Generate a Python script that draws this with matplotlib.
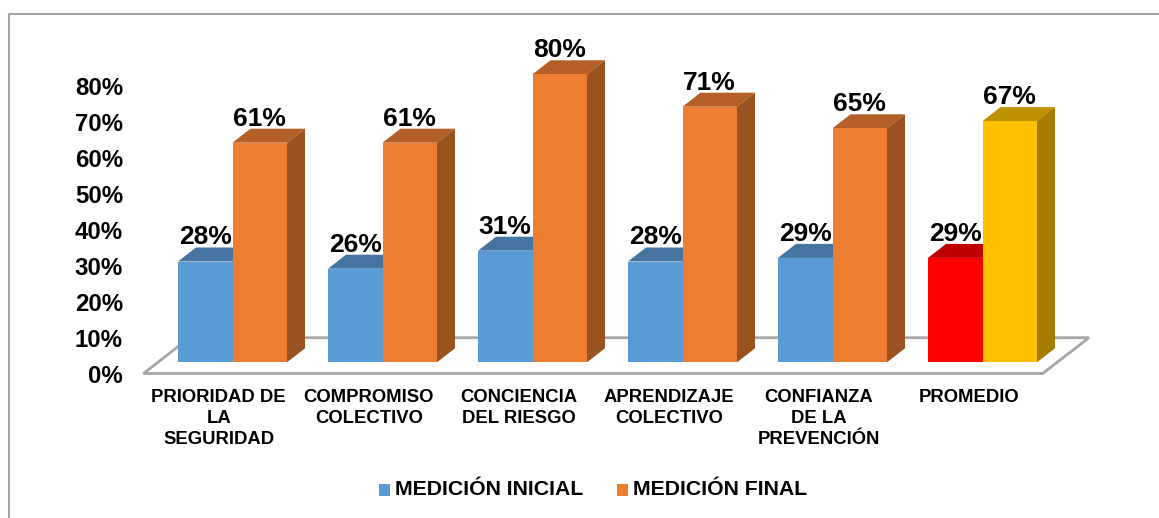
import matplotlib
matplotlib.use("Agg")
import matplotlib.pyplot as plt
from matplotlib.lines import Line2D
from matplotlib.patches import Polygon, Rectangle
from matplotlib.transforms import Affine2D

categories = [
    "PRIORIDAD DE\nLA\nSEGURIDAD",
    "COMPROMISO\nCOLECTIVO",
    "CONCIENCIA\nDEL RIESGO",
    "APRENDIZAJE\nCOLECTIVO",
    "CONFIANZA\nDE LA\nPREVENCIÓN",
    "PROMEDIO",
]
medicion_inicial = [28, 26, 31, 28, 29, 29]
medicion_final = [61, 61, 80, 71, 65, 67]
y_ticks = [0, 10, 20, 30, 40, 50, 60, 70, 80]

W, H = 1159, 518
BAR_W = 54.5 / 150
DEPTH_X = 18 / 150
DEPTH_Y = 14 / 3.6

# face, top, side colours
BLUE = ("#5b9bd5", "#44749f", "#3f6d97")
ORANGE = ("#ed7d31", "#b35f27", "#9a5221")
RED = ("#ff0000", "#bf0000", "#a60000")
YELLOW = ("#ffc000", "#bf9000", "#a67c00")

plt.rcParams["font.family"] = ["Liberation Sans", "DejaVu Sans"]
plt.rcParams["font.weight"] = "bold"

fig = plt.figure(figsize=(W / 100, H / 100), dpi=100)
px = Affine2D().scale(1, -1).translate(0, H)  # pixels from the top left


def add_axes_px(left, base):
    # 150 px per category, 3.6 px per percent
    ax = fig.add_axes([left / W, (H - base) / H, 900 / W, 324 / H])
    ax.set_xlim(-0.5, 5.5)
    ax.set_ylim(0, 90)
    ax.patch.set_visible(False)
    for s in ax.spines.values():
        s.set_visible(False)
    return ax


def bar3d(ax, x, v, colors):
    face, top, side = colors
    ax.bar(x, v, BAR_W, color=face, align="edge", zorder=3)
    ax.add_patch(Polygon([(x, v), (x + BAR_W, v), (x + BAR_W + DEPTH_X, v + DEPTH_Y),
                          (x + DEPTH_X, v + DEPTH_Y)], color=top, lw=0, zorder=2))
    ax.add_patch(Polygon([(x + BAR_W, 0), (x + BAR_W + DEPTH_X, DEPTH_Y),
                          (x + BAR_W + DEPTH_X, v + DEPTH_Y), (x + BAR_W, v)],
                         color=side, lw=0, zorder=2))
    ax.annotate(f"{v}%", (x + BAR_W / 2, v), xytext=(0, 17.3), textcoords="offset points",
                ha="center", va="center", fontsize=19, color="black", zorder=5)


# chart frame (top and left edges only) and floor
fig.add_artist(Line2D([9, 9, W], [H, 14, 14], transform=px, color="#a6a6a6", lw=1.5, zorder=-2))
fig.add_artist(Polygon([(143.5, 373.5), (1042.7, 373.5), (1089, 337.7), (189.5, 337.7)],
                       closed=True, transform=px, fc="white", ec="#a6a6a6", lw=2, zorder=-1))

# axis plane at the front of the floor
ax_y = add_axes_px(143.8, 373.6)
ax_y.set_xticks(range(len(categories)))
ax_y.set_xticklabels(categories, fontsize=13.3, linespacing=1.3)
ax_y.set_yticks(y_ticks)
ax_y.set_yticklabels([f"{t}%" for t in y_ticks], fontsize=17.3)
ax_y.tick_params(axis="x", length=0, pad=11)
ax_y.tick_params(axis="y", length=0, pad=15)

# bars stand a little behind that plane
ax = add_axes_px(157.5, 362.3)
ax.axis("off")
for i in range(len(categories)):
    is_avg = categories[i] == "PROMEDIO"
    bar3d(ax, i - BAR_W, medicion_inicial[i], RED if is_avg else BLUE)
    bar3d(ax, i, medicion_final[i], YELLOW if is_avg else ORANGE)

# legend
fig.add_artist(Rectangle((379, 484), 11, 12, transform=px, color=BLUE[0], lw=0))
fig.add_artist(Rectangle((617, 484), 11, 12, transform=px, color=ORANGE[0], lw=0))
fig.text(395 / W, 1 - 489.5 / H, "MEDICIÓN INICIAL", fontsize=15.3, va="center")
fig.text(633 / W, 1 - 489.5 / H, "MEDICIÓN FINAL", fontsize=15.3, va="center")

fig.savefig("out.png", dpi=100, facecolor="white")
